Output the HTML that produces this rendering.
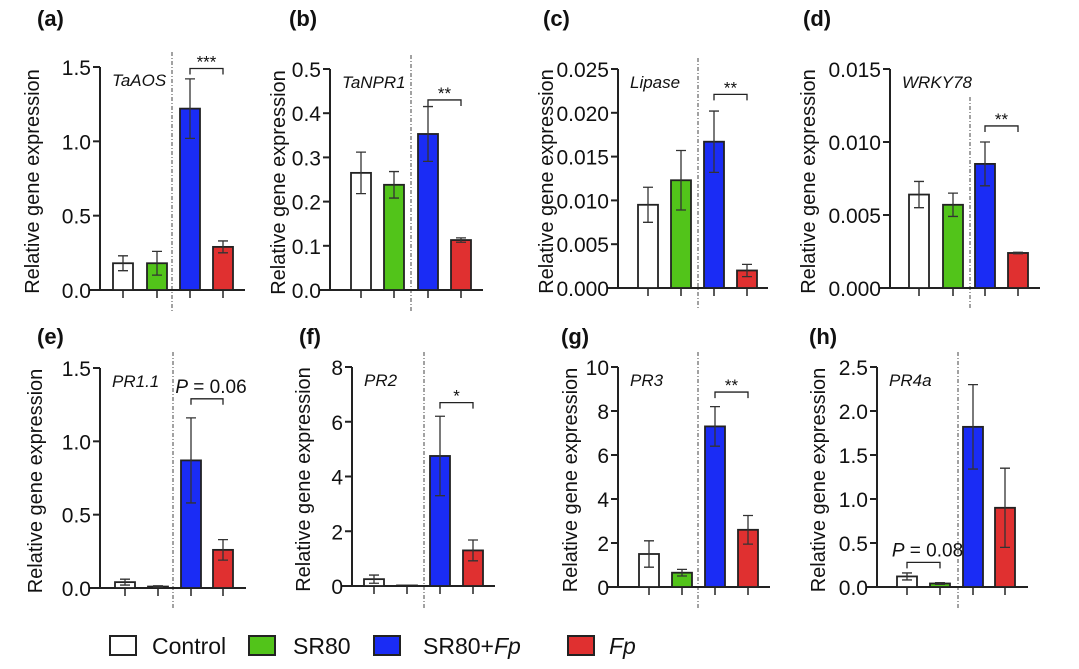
<!DOCTYPE html>
<html><head><meta charset="utf-8"><style>
body{margin:0;background:#fff;}
svg{display:block;font-family:"Liberation Sans",Arial,sans-serif;}
</style></head><body>
<svg id="fig" width="1079" height="669" viewBox="0 0 1079 669" xmlns="http://www.w3.org/2000/svg"></svg>
<script>
const groups = ["Control","SR80","SR80+Fp","Fp"];
const colors = ["#ffffff","#52c41a","#1a2cf5","#e03030"];
const genes = ["TaAOS","TaNPR1","Lipase","WRKY78","PR1.1","PR2","PR3","PR4a"];
const letters = ["(a)","(b)","(c)","(d)","(e)","(f)","(g)","(h)"];
const vA = [0.18,0.18,1.22,0.29], eA = [0.05,0.08,0.2,0.04];
const vB = [0.265,0.238,0.353,0.113], eB = [0.047,0.03,0.062,0.005];
const vC = [0.0095,0.0123,0.0167,0.002], eC = [0.002,0.0034,0.0035,0.0007];
const vD = [0.0064,0.0057,0.0085,0.0024], eD = [0.0009,0.0008,0.0015,0.00005];
const vE = [0.04,0.01,0.87,0.26], eE = [0.02,0.005,0.29,0.07];
const vF = [0.25,0.02,4.75,1.3], eF = [0.15,0,1.45,0.38];
const vG = [1.5,0.65,7.3,2.6], eG = [0.6,0.15,0.9,0.65];
const vH = [0.12,0.04,1.82,0.9], eH = [0.04,0.01,0.48,0.45];
const ticksA = ["0.0","0.5","1.0","1.5"], ticksB = ["0.0","0.1","0.2","0.3","0.4","0.5"];
const ticksC = ["0.000","0.005","0.010","0.015","0.020","0.025"], ticksD = ["0.000","0.005","0.010","0.015"];
const ticksE = ["0.0","0.5","1.0","1.5"], ticksF = ["0","2","4","6","8"];
const ticksG = ["0","2","4","6","8","10"], ticksH = ["0.0","0.5","1.0","1.5","2.0","2.5"];
const sigLabels = ["***","**","**","**","P = 0.06","*","**","P = 0.08"];
const sigLevels = [1.49,0.43,0.0221,0.0111,1.29,6.7,8.86,0.28];
const values = [vA,vB,vC,vD,vE,vF,vG,vH];
const errs = [eA,eB,eC,eD,eE,eF,eG,eH];
const ticks = [ticksA,ticksB,ticksC,ticksD,ticksE,ticksF,ticksG,ticksH];

const layout = [
 {ax:100,y0:290,y1:67,c:[123,157,190,223],dash:172,end:245,top:52,sig:[2,3],lx:37,ly:26,tx:39},
 {ax:330,y0:290,y1:69,c:[361,394,428,461],dash:411,end:483,top:55,sig:[2,3],lx:289,ly:26,tx:285},
 {ax:618,y0:288,y1:69,c:[648,681,714,747],dash:698,end:768,top:58,sig:[2,3],lx:543,ly:26,tx:553},
 {ax:890,y0:288,y1:69,c:[919,953,985,1018],dash:970,end:1040,top:97,sig:[2,3],lx:803,ly:26,tx:815},
 {ax:100,y0:588,y1:368,c:[125,158,191,223],dash:173,end:246,top:352,sig:[2,3],lx:37,ly:344,tx:42},
 {ax:352,y0:586,y1:367,c:[374,407,440,473],dash:424,end:495,top:352,sig:[2,3],lx:299,ly:344,tx:310},
 {ax:618,y0:587,y1:367,c:[649,682,715,748],dash:698,end:770,top:352,sig:[2,3],lx:561,ly:344,tx:577},
 {ax:877,y0:587,y1:367,c:[907,940,973,1005],dash:958,end:1028,top:352,sig:[0,1],lx:809,ly:344,tx:825}
];
const NS="http://www.w3.org/2000/svg";
const svg=document.getElementById('fig');
function mk(tag,attrs,parent){const e=document.createElementNS(NS,tag);for(const k in attrs)e.setAttribute(k,attrs[k]);(parent||svg).appendChild(e);return e;}

for(let p=0;p<8;p++){
  const L=layout[p], tk=ticks[p], vals=values[p], er=errs[p];
  const tmax=parseFloat(tk[tk.length-1]);
  const y=v=>L.y0-(v/tmax)*(L.y0-L.y1);
  const g=mk('g',{});
  
  
  const lt=mk('text',{x:L.lx,y:L.ly,'font-size':22,'font-weight':'bold',fill:'#111'},g);lt.textContent=letters[p];
  
  
  const ds=mk('line',{x1:L.dash,x2:L.dash,y1:L.top,y2:L.y0+22,stroke:'#444','stroke-width':1,'stroke-dasharray':'4,2,1,2'},g);
  
  
  const ya=mk('line',{x1:L.ax,x2:L.ax,y1:L.y1,y2:L.y0,stroke:'#222','stroke-width':2},g);
  
  
  const xa=mk('line',{x1:L.ax-10,x2:L.end,y1:L.y0,y2:L.y0,stroke:'#222','stroke-width':2},g);
  
  
  tk.forEach(t=>{
    const yy=y(parseFloat(t));
    mk('line',{x1:L.ax-7,x2:L.ax,y1:yy,y2:yy,stroke:'#222','stroke-width':2},g);
    const tt=mk('text',{x:L.ax-9,y:yy+8,'font-size':21,'text-anchor':'end',fill:'#111'},g);tt.textContent=t;
    
    
  });
  const yt=mk('text',{x:0,y:0,'font-size':20,'text-anchor':'middle',fill:'#111',transform:`translate(${L.tx},${(L.y0+L.y1)/2+3}) rotate(-90)`},g);
  yt.textContent='Relative gene expression';
  
  
  const gn=mk('text',{x:L.ax+12,y:L.y1+19,'font-size':17,'font-style':'italic',fill:'#111'},g);gn.textContent=genes[p];
  
  
  for(let i=0;i<4;i++){
    const cx=L.c[i], top=y(vals[i]);
    mk('line',{x1:cx,x2:cx,y1:L.y0,y2:L.y0+8,stroke:'#222','stroke-width':1.5},g);
    const b=mk('rect',{x:cx-10,y:top,width:20,height:Math.max(L.y0-top,0.5),fill:colors[i],stroke:'#222','stroke-width':1.8},g);
    
    
    if(er[i]>0){
      const hi=y(vals[i]+er[i]), lo=y(Math.max(vals[i]-er[i],0));
      const eb=mk('path',{d:`M${cx},${hi}V${lo}M${cx-5},${hi}H${cx+5}M${cx-5},${lo}H${cx+5}`,stroke:'#333','stroke-width':1.3,fill:'none'},g);
      
      
    }
  }
  const sy=y(sigLevels[p]), xA=L.c[L.sig[0]], xB=L.c[L.sig[1]];
  const br=mk('path',{d:`M${xA},${sy+6}V${sy}H${xB}V${sy+6}`,stroke:'#222','stroke-width':1.3,fill:'none'},g);
  
  
  const isP=sigLabels[p].startsWith('P');
  const st=mk('text',{x:(xA+xB)/2+(isP?4:0),y:isP?sy-6:sy-1,'font-size':isP?19:17,'text-anchor':'middle',fill:'#111'},g);
  if(isP){
    const i1=mk('tspan',{'font-style':'italic'},st);i1.textContent='P';
    const t2=mk('tspan',{},st);t2.textContent=sigLabels[p].slice(1);
  } else st.textContent=sigLabels[p];
  
  
}
const legX=[110,249,374,568], legT=[152,293,423,609];
const lg=mk('g',{});


for(let i=0;i<4;i++){
  const e=mk('g',{},lg);
  
  
  mk('rect',{x:legX[i],y:636,width:26,height:19,fill:colors[i],stroke:'#222','stroke-width':2},e);
  const t=mk('text',{x:legT[i],y:654,'font-size':23,fill:'#111'},e);
  if(groups[i]==='SR80+Fp'){const a=mk('tspan',{},t);a.textContent='SR80+';const b=mk('tspan',{'font-style':'italic'},t);b.textContent='Fp';}
  else if(groups[i]==='Fp'){const b=mk('tspan',{'font-style':'italic'},t);b.textContent='Fp';}
  else t.textContent=groups[i];
}
</script>
</body></html>
